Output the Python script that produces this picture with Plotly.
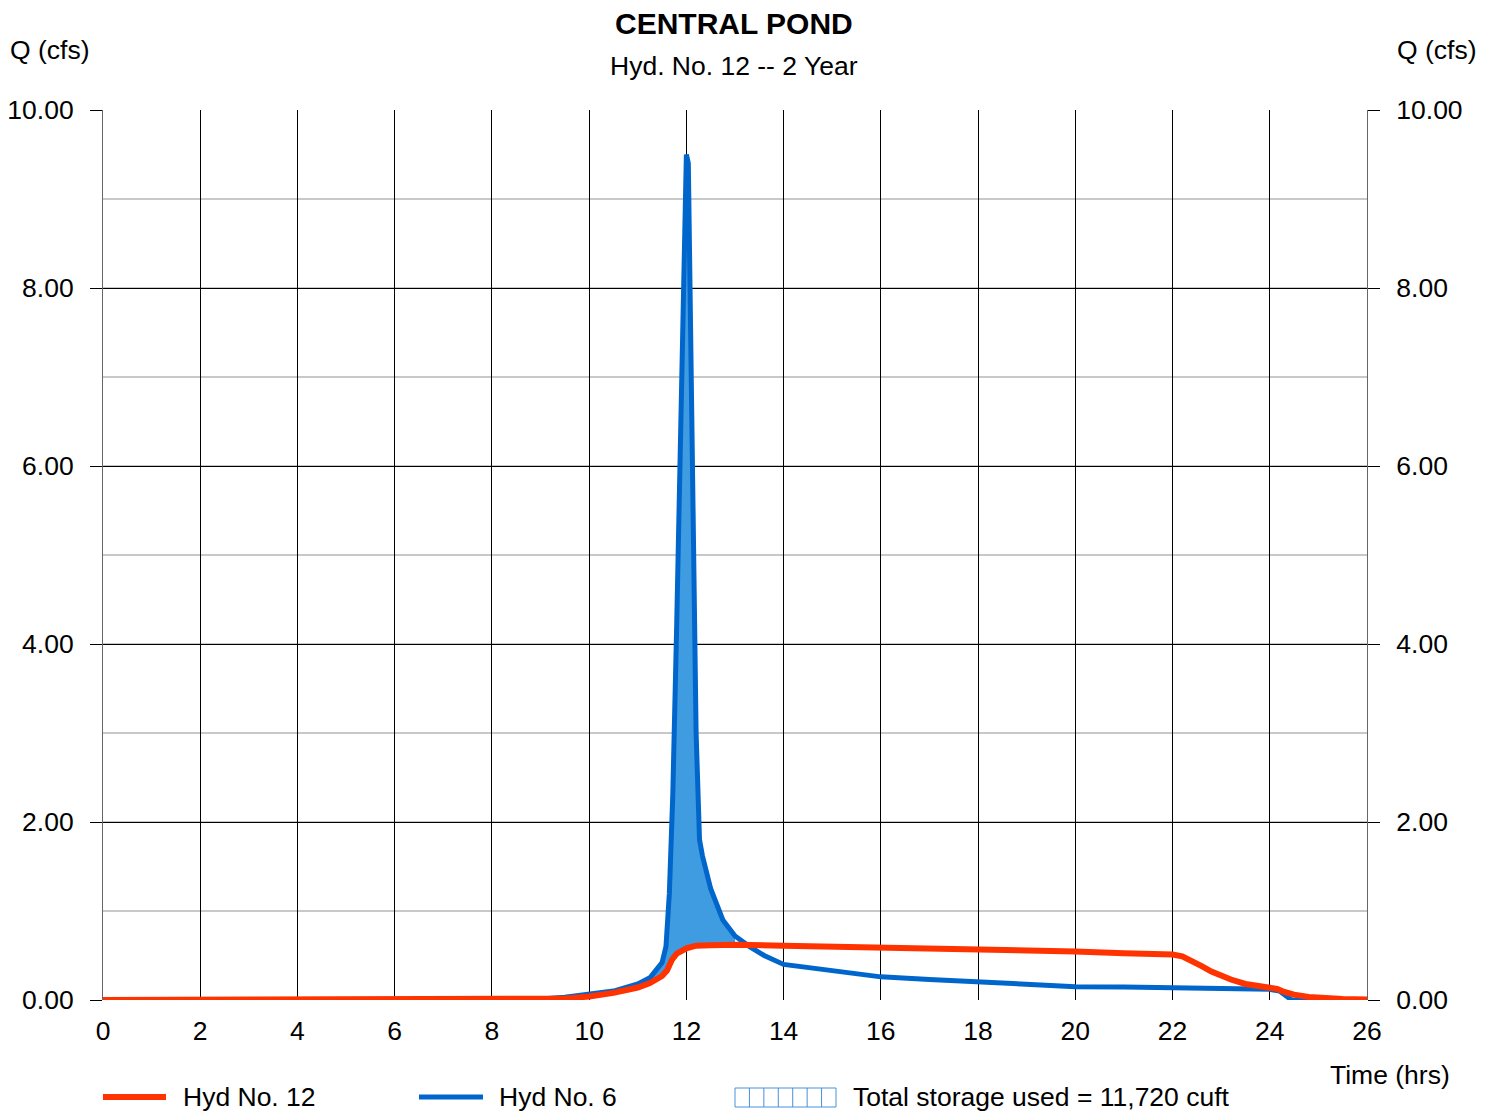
import numpy as np
import plotly.graph_objects as go

# ---------------- data ----------------
# Hyd No. 6 (inflow)
t_in = [0, 8.0, 8.5, 9.0, 9.5, 10.0, 10.5, 11.0, 11.25, 11.5, 11.58, 11.65, 11.72, 11.8, 11.88,
        11.95, 12.0, 12.04, 12.08, 12.14, 12.2, 12.27, 12.33, 12.5, 12.75, 13.0, 13.3, 13.6,
        14.0, 15.0, 16.0, 17.0, 18.0, 19.0, 20.0, 21.0, 22.0, 23.0, 24.0, 24.2, 24.45, 25.0, 26.0]
q_in = [0, 0, 0.002, 0.01, 0.03, 0.06, 0.1, 0.18, 0.25, 0.42, 0.6, 1.2, 2.3, 4.2, 6.5,
        8.6, 9.5, 9.4, 7.8, 5.0, 3.0, 1.8, 1.62, 1.25, 0.9, 0.72, 0.6, 0.5,
        0.4, 0.33, 0.26, 0.23, 0.2, 0.18, 0.15, 0.145, 0.135, 0.13, 0.12, 0.1, 0.0, 0.0, 0.0]

# Hyd No. 12 (outflow)
t_out = [0, 8.5, 9.0, 9.5, 10.0, 10.5, 11.0, 11.25, 11.5, 11.6, 11.7, 11.8, 12.0, 12.2, 12.5,
         13.0, 14.0, 15.0, 16.0, 17.0, 18.0, 19.0, 20.0, 21.0, 22.0, 22.2, 22.4, 22.6, 22.8,
         23.0, 23.2, 23.5, 23.8, 24.0, 24.15, 24.3, 24.5, 24.8, 25.0, 25.5, 26.0]
q_out = [0, 0, 0.005, 0.015, 0.04, 0.08, 0.14, 0.19, 0.27, 0.33, 0.45, 0.52, 0.58, 0.61, 0.615,
         0.62, 0.61, 0.6, 0.59, 0.585, 0.575, 0.56, 0.545, 0.525, 0.51, 0.49, 0.44, 0.38, 0.32,
         0.27, 0.23, 0.18, 0.15, 0.13, 0.125, 0.09, 0.06, 0.035, 0.025, 0.01, 0.005]

x_ticks = list(range(0, 27, 2))
y_ticks = [0, 2, 4, 6, 8, 10]

title = "CENTRAL POND"
subtitle = "Hyd. No. 12 -- 2 Year"
legend_labels = ["Hyd No. 12", "Hyd No. 6", "Total storage used = 11,720 cuft"]

RED = "#ff3300"
BLUE = "#0066cc"
FILL = "#409ce0"
FONT = "Liberation Sans"
FS = 26.5

# ---------------- storage fill polygon (where inflow > outflow) ----------------
tt = np.union1d(np.array(t_in, float), np.array(t_out, float))
bi = np.interp(tt, t_in, q_in)
ro = np.interp(tt, t_out, q_out)
mask = (bi > ro) & (tt > 11.0) & (tt < 14.0)
fx = np.concatenate([tt[mask], tt[mask][::-1]])
fy = np.concatenate([bi[mask], ro[mask][::-1]])

fig = go.Figure()
fig.add_trace(go.Scatter(x=fx, y=fy, fill="toself", fillcolor=FILL, mode="none",
                         hoverinfo="skip", showlegend=False))
fig.add_trace(go.Scatter(x=t_in, y=q_in, mode="lines", line=dict(color=BLUE, width=5),
                         name=legend_labels[1], showlegend=False))
fig.add_trace(go.Scatter(x=t_out, y=q_out, mode="lines", line=dict(color=RED, width=6),
                         name=legend_labels[0], showlegend=False, yaxis="y2"))

OFF = 8  # page body margin
W, H = 1496 - OFF, 1112 - OFF
L, R, T, B = 103 - OFF, 1367 - OFF, 110 - OFF, 1000 - OFF


def xp(px):
    return (px - OFF - L) / (R - L)


def yp(py):
    return (B - (py - OFF)) / (B - T)


yax_common = dict(range=[0, 10], tickvals=y_ticks, tickformat=".2f", ticks="outside",
                  ticklen=12, tickcolor="black", tickwidth=1, zeroline=False,
                  showline=True, linecolor="#666666", linewidth=1,
                  tickfont=dict(size=FS, color="black", family=FONT),
                  ticklabelstandoff=11)

fig.update_layout(
    width=W, height=H,
    margin=dict(l=L, r=W - R, t=T, b=H - B, autoexpand=False),
    plot_bgcolor="white", paper_bgcolor="white",
    showlegend=False,
    font=dict(family=FONT, size=FS, color="black"),
    xaxis=dict(range=[0, 26], tickvals=x_ticks, showgrid=True, gridcolor="black", gridwidth=1,
               zeroline=False, ticks="", showline=False,
               tickfont=dict(size=FS, color="black", family=FONT), ticklabelstandoff=12),
    yaxis=dict(**yax_common, side="left", showgrid=True, gridcolor="black", gridwidth=1,
               minor=dict(dtick=1, showgrid=True, gridcolor="#c8c8c8", gridwidth=2, ticks="")),
    yaxis2=dict(**yax_common, side="right", overlaying="y", showgrid=False),
)

ann = []
ann.append(dict(text="<b>" + title + "</b>", x=xp(734), y=yp(23), xref="paper", yref="paper",
                showarrow=False, xanchor="center", yanchor="middle", font=dict(size=30)))
ann.append(dict(text=subtitle, x=xp(734), y=yp(66), xref="paper", yref="paper",
                showarrow=False, xanchor="center", yanchor="middle", font=dict(size=FS)))
ann.append(dict(text="Q (cfs)", x=xp(50), y=yp(50), xref="paper", yref="paper",
                showarrow=False, xanchor="center", yanchor="middle", font=dict(size=FS)))
ann.append(dict(text="Q (cfs)", x=xp(1437), y=yp(50), xref="paper", yref="paper",
                showarrow=False, xanchor="center", yanchor="middle", font=dict(size=FS)))
ann.append(dict(text="Time (hrs)", x=xp(1452), y=yp(1075), xref="paper", yref="paper",
                showarrow=False, xanchor="right", yanchor="middle", font=dict(size=FS)))
for lbl, px in zip(legend_labels, [181, 497, 851]):
    ann.append(dict(text=lbl, x=xp(px), y=yp(1097), xref="paper", yref="paper",
                    showarrow=False, xanchor="left", yanchor="middle", font=dict(size=FS)))

shapes = []
# legend line samples
shapes.append(dict(type="line", xref="paper", yref="paper", x0=xp(103), x1=xp(166),
                   y0=yp(1097), y1=yp(1097), line=dict(color=RED, width=6)))
shapes.append(dict(type="line", xref="paper", yref="paper", x0=xp(419), x1=xp(483),
                   y0=yp(1097), y1=yp(1097), line=dict(color=BLUE, width=5)))
# storage pattern box
bx0, bx1, by0, by1 = 735, 836, 1088, 1107
shapes.append(dict(type="rect", xref="paper", yref="paper", x0=xp(bx0), x1=xp(bx1),
                   y0=yp(by1), y1=yp(by0), line=dict(color="#4a90d9", width=1),
                   fillcolor="rgba(0,0,0,0)"))
for k in range(1, 7):
    px = bx0 + k * (bx1 - bx0) / 7
    shapes.append(dict(type="line", xref="paper", yref="paper", x0=xp(px), x1=xp(px),
                       y0=yp(by1), y1=yp(by0), line=dict(color="#4a90d9", width=1)))

fig.update_layout(annotations=ann, shapes=shapes)
fig.write_html("out.html")
